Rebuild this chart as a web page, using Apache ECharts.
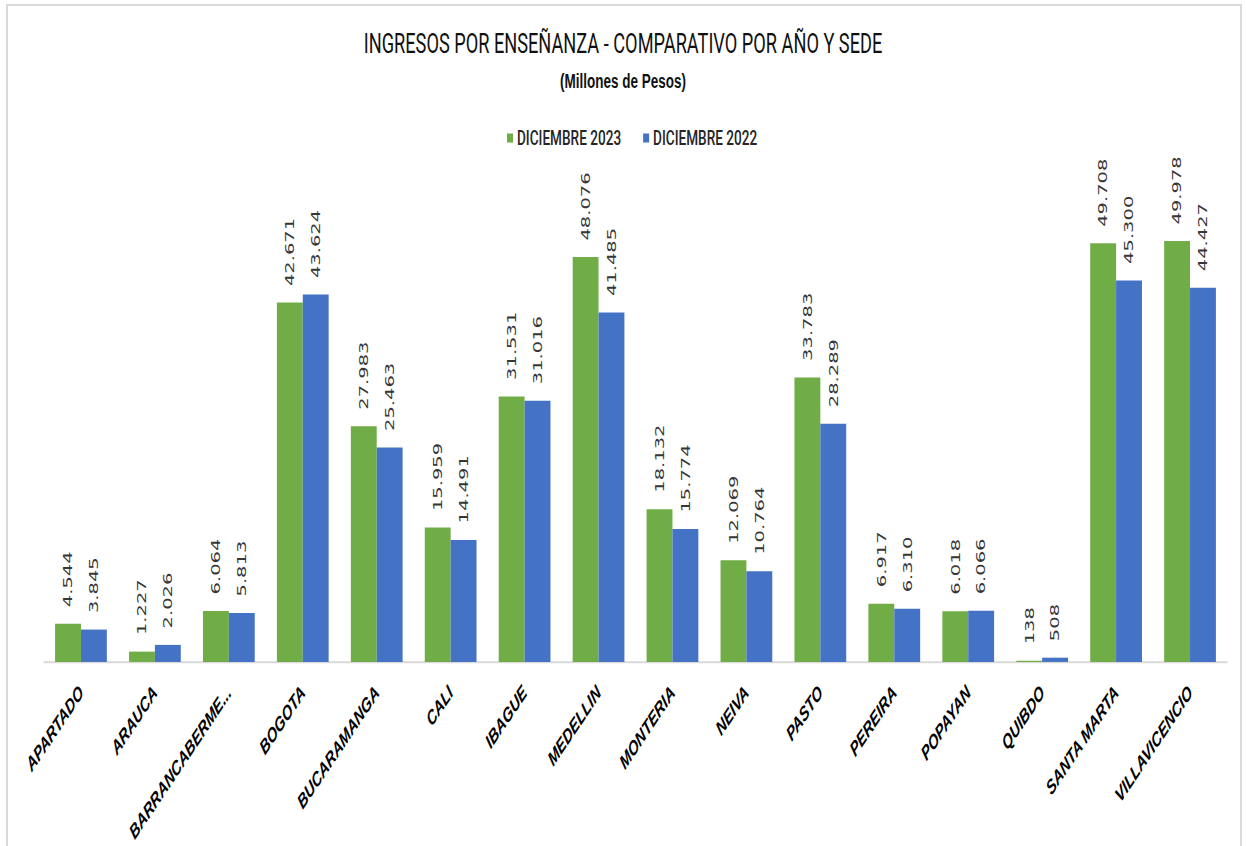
<!DOCTYPE html>
<html>
<head>
<meta charset="utf-8">
<script src="https://cdn.jsdelivr.net/npm/echarts@6/dist/echarts.min.js"></script>
<style>
  html, body { margin: 0; padding: 0; background: #ffffff; overflow: hidden; }
  #frame { position: absolute; left: 6px; top: 4px; width: 1236px; height: 900px;
           border: 2px solid #dadada; border-bottom: none; box-sizing: border-box; }
  #chart { position: absolute; left: 0; top: 0; width: 1246px; height: 564px;
           transform: scaleY(1.5); transform-origin: 0 0; }
</style>
</head>
<body>
<div id="frame"></div>
<div id="chart"></div>
<script>
const categories = ["APARTADO", "ARAUCA", "BARRANCABERME...", "BOGOTA", "BUCARAMANGA", "CALI",
  "IBAGUE", "MEDELLIN", "MONTERIA", "NEIVA", "PASTO", "PEREIRA", "POPAYAN", "QUIBDO",
  "SANTA MARTA", "VILLAVICENCIO"];
const dic2023 = [4544, 1227, 6064, 42671, 27983, 15959, 31531, 48076, 18132, 12069, 33783, 6917, 6018, 138, 49708, 49978];
const dic2022 = [3845, 2026, 5813, 43624, 25463, 14491, 31016, 41485, 15774, 10764, 28289, 6310, 6066, 508, 45300, 44427];
const seriesNames = ["DICIEMBRE 2023", "DICIEMBRE 2022"];
const titleText = "INGRESOS POR ENSEÑANZA - COMPARATIVO POR AÑO Y SEDE";
const subtitleText = "(Millones de Pesos)";

function fmt(v) {
  if (v >= 1000) {
    return Math.floor(v / 1000) + "." + String(v % 1000).padStart(3, "0");
  }
  return String(v);
}

const chart = echarts.init(document.getElementById("chart"), null, { renderer: "svg" });

const labelCfg = {
  show: true,
  position: "top",
  rotate: 90,
  align: "left",
  verticalAlign: "middle",
  distance: 11,
  fontFamily: "DejaVu Sans",
  fontSize: 13,
  color: "#363636",
  formatter: p => fmt(p.value)
};

chart.setOption({
  animation: false,
  backgroundColor: "transparent",
  title: [
    {
      text: titleText, left: "center", top: 15,
      textStyle: { fontFamily: "Roboto, Liberation Sans, sans-serif", fontSize: 18.2, fontWeight: 400, color: "#111111" }
    },
    {
      text: subtitleText, left: "center", top: 42,
      textStyle: { fontFamily: "Liberation Sans, Arial, sans-serif", fontSize: 13.5, fontWeight: "bold", color: "#111111" }
    }
  ],
  legend: {
    data: seriesNames,
    left: 502,
    top: 80,
    icon: "rect",
    itemWidth: 6,
    itemHeight: 6,
    itemGap: 22,
    textStyle: { fontFamily: "Roboto, Liberation Sans, sans-serif", fontSize: 13.6, fontWeight: 500, color: "#262626", padding: [0, 0, 0, -1] }
  },
  grid: { left: 44, right: 19, top: 104.4, bottom: 122.7, containLabel: false },
  xAxis: {
    type: "category",
    data: categories,
    axisLine: { show: true, lineStyle: { color: "#d9d9d9", width: 1.2 } },
    axisTick: { show: false },
    axisLabel: {
      interval: 0,
      rotate: 45,
      margin: 18,
      fontFamily: "Liberation Sans, Arial, sans-serif",
      fontSize: 13.5,
      fontWeight: "bold",
      fontStyle: "italic",
      color: "#000000"
    }
  },
  yAxis: {
    type: "value",
    min: 0,
    max: 60000,
    show: false,
    splitLine: { show: false }
  },
  series: [
    {
      name: seriesNames[0], type: "bar", data: dic2023,
      barGap: "0%", barCategoryGap: "30%",
      itemStyle: { color: "#70AD47" },
      label: labelCfg
    },
    {
      name: seriesNames[1], type: "bar", data: dic2022,
      barGap: "0%", barCategoryGap: "30%",
      itemStyle: { color: "#4472C4" },
      label: labelCfg
    }
  ]
});
</script>
</body>
</html>
